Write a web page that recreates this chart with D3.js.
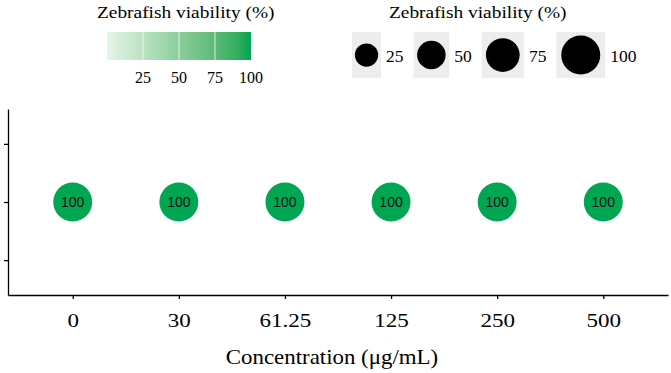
<!DOCTYPE html>
<html>
<head>
<meta charset="utf-8">
<script src="https://cdn.jsdelivr.net/npm/d3@7"></script>
<style>
body { margin: 0; background: #fff; }
svg { display: block; }
</style>
</head>
<body>
<svg width="671" height="373"></svg>
<script>
const concentrations = ['0', '30', '61.25', '125', '250', '500'];
const viability = [100, 100, 100, 100, 100, 100];
const rowLevel = 2;
const yTickValues = [1, 2, 3];
const legendBreaks = [25, 50, 75, 100];
const legendTitle = 'Zebrafish viability (%)';
const xTitle = 'Concentration (μg/mL)';

const svg = d3.select('svg');
const width = +svg.attr('width');
const height = +svg.attr('height');

const serif = '"Liberation Serif", "Times New Roman", serif';
const sans = '"Liberation Sans", Arial, sans-serif';

const render = () => {
	const margin = {top: 109, right: 3, bottom: 78, left: 8};
	const innerWidth = width - margin.left - margin.right;
	const innerHeight = height - margin.top - margin.bottom;

	const xScale = d3.scalePoint()
		.domain(concentrations)
		.range([0, innerWidth])
		.padding(0.61);

	const yScale = d3.scaleLinear()
		.domain([0.4, 3.6])
		.range([innerHeight, 0]);

	const colorScale = d3.scaleLinear()
		.domain([0, 100])
		.range(['#e6f5e9', '#00a651'])
		.interpolate(d3.interpolateLab);

	const sizeScale = d3.scaleLinear()
		.domain([0, 100])
		.range([9, 19.5]);

	const g = svg.append('g')
		.attr('transform', `translate(${margin.left}, ${margin.top})`);

	// axes
	const xAxis = d3.axisBottom(xScale).tickSize(4).tickSizeOuter(0);
	const xG = g.append('g').attr('transform', `translate(0, ${innerHeight})`).call(xAxis);
	xG.select('.domain').attr('stroke', '#000').attr('stroke-width', 1.3);
	xG.selectAll('.tick line').attr('stroke', '#000').attr('stroke-width', 1.3);
	xG.selectAll('.tick text')
		.attr('font-family', serif)
		.attr('font-size', 18)
		.attr('fill', '#000')
		.attr('y', 32)
		.attr('dy', 0)
		.attr('transform', 'scale(1.28, 1)');

	const yAxis = d3.axisLeft(yScale)
		.tickValues(yTickValues)
		.tickFormat('')
		.tickSize(4)
		.tickSizeOuter(0);
	const yG = g.append('g').call(yAxis);
	yG.select('.domain').attr('stroke', '#000').attr('stroke-width', 1.3);
	yG.selectAll('.tick line').attr('stroke', '#000').attr('stroke-width', 1.3);

	g.append('text')
		.attr('transform', `translate(${innerWidth / 2 - 6}, ${innerHeight + 69}) scale(1.04, 1)`)
		.attr('text-anchor', 'middle')
		.attr('font-family', serif)
		.attr('font-size', 22)
		.attr('fill', '#000')
		.text(xTitle);

	// points
	const points = concentrations.map((c, i) => ({conc: c, value: viability[i]}));

	g.selectAll('circle.dot').data(points)
		.enter().append('circle')
		.attr('class', 'dot')
		.attr('cx', d => xScale(d.conc))
		.attr('cy', yScale(rowLevel))
		.attr('r', d => sizeScale(d.value))
		.attr('fill', d => colorScale(d.value));

	g.selectAll('text.dot-label').data(points)
		.enter().append('text')
		.attr('class', 'dot-label')
		.attr('x', d => xScale(d.conc))
		.attr('y', yScale(rowLevel))
		.attr('dy', '0.36em')
		.attr('text-anchor', 'middle')
		.attr('font-family', sans)
		.attr('font-size', 14)
		.attr('fill', '#111')
		.text(d => d.value);

	// colour legend
	const barScale = d3.scaleLinear().domain([0, 100]).range([107, 251]);
	const grad = svg.append('defs').append('linearGradient').attr('id', 'viab-grad');
	grad.selectAll('stop').data(d3.range(0, 101, 10))
		.enter().append('stop')
		.attr('offset', d => `${d}%`)
		.attr('stop-color', d => colorScale(d));

	svg.append('text')
		.attr('transform', 'translate(97, 18) scale(1.14, 1)')
		.attr('font-family', serif)
		.attr('font-size', 17)
		.attr('fill', '#000')
		.text(legendTitle);

	svg.append('rect')
		.attr('x', barScale(0))
		.attr('y', 32)
		.attr('width', barScale(100) - barScale(0))
		.attr('height', 28)
		.attr('fill', 'url(#viab-grad)');

	svg.selectAll('line.bar-tick').data(legendBreaks.slice(0, -1))
		.enter().append('line')
		.attr('class', 'bar-tick')
		.attr('x1', d => barScale(d)).attr('x2', d => barScale(d))
		.attr('y1', 32).attr('y2', 60)
		.attr('stroke', '#fff')
		.attr('stroke-opacity', 0.75)
		.attr('stroke-width', 1);

	svg.selectAll('text.bar-label').data(legendBreaks)
		.enter().append('text')
		.attr('class', 'bar-label')
		.attr('x', d => barScale(d))
		.attr('y', 83)
		.attr('text-anchor', 'middle')
		.attr('font-family', serif)
		.attr('font-size', 16)
		.attr('fill', '#000')
		.text(d => d);

	// size legend
	svg.append('text')
		.attr('transform', 'translate(389, 18) scale(1.14, 1)')
		.attr('font-family', serif)
		.attr('font-size', 17)
		.attr('fill', '#000')
		.text(legendTitle);

	let cursor = 352;
	legendBreaks.forEach(v => {
		const r = sizeScale(v);
		const boxW = r * 2.5;
		svg.append('rect')
			.attr('x', cursor).attr('y', 32)
			.attr('width', boxW).attr('height', 46)
			.attr('fill', '#ededed');
		svg.append('circle')
			.attr('cx', cursor + boxW / 2).attr('cy', 55)
			.attr('r', r)
			.attr('fill', '#000');
		const label = svg.append('text')
			.attr('x', cursor + boxW + 5)
			.attr('y', 62)
			.attr('font-family', serif)
			.attr('font-size', 17.5)
			.attr('fill', '#000')
			.text(v);
		cursor += boxW + 5 + label.node().getComputedTextLength() + 10;
	});
};

render();
</script>
</body>
</html>
